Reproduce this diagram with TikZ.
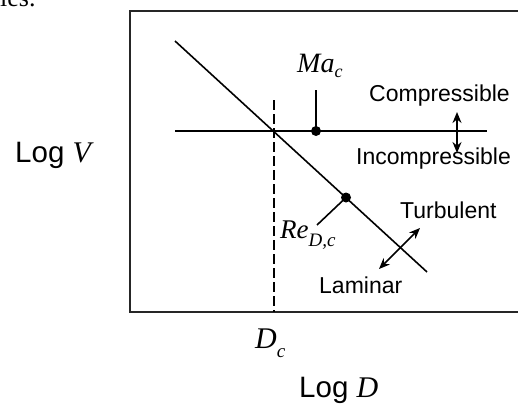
\documentclass[tikz,border=0pt]{standalone}
\usepackage{fontspec}
\setmainfont{Liberation Serif}
\newfontfamily\arial{Liberation Sans}
\usetikzlibrary{arrows.meta}
\tikzset{
  frame/.style={line width=1.6pt, draw=black!85},
  curve/.style={line width=1.6pt},
  dashline/.style={line width=1.5pt, dash pattern=on 10pt off 4pt},
  dotnode/.style={circle, fill=black, inner sep=0pt, minimum size=10pt},
  dblarrow/.style={line width=1.6pt, {Stealth[length=11pt,width=9pt]}-{Stealth[length=11pt,width=9pt]}},
  lbl/.style={font=\arial\fontsize{23}{25}\selectfont, inner sep=0pt, anchor=base west},
  axlbl/.style={font=\arial\fontsize{29.5}{31}\selectfont, inner sep=0pt, anchor=base west},
  sym/.style={inner sep=0pt, anchor=base west},
}
\begin{document}
\begin{tikzpicture}[x=1pt,y=-1pt]
\useasboundingbox (0,0) rectangle (518,404);
\begin{scope}
\clip (0,0) rectangle (518,404);
\node[sym, font=\fontsize{26}{28}\selectfont] (frag) at (0,7) {ies.};
\coordinate (bTR) at (530,11);
\coordinate (bTL) at (130,11);
\coordinate (bBL) at (130,312);
\coordinate (bBR) at (530,312);
\draw[frame] (bTR) -- (bTL) -- (bBL) -- (bBR);
\end{scope}
% main lines
\coordinate (dA) at (175,41);
\coordinate (dB) at (427,272);
\coordinate (hA) at (175,131);
\coordinate (hB) at (487,131);
\coordinate (vT) at (274,100);
\coordinate (vB) at (274,312);
\draw[curve] (dA) -- (dB);
\draw[curve] (hA) -- (hB);
\draw[dashline] (vT) -- (vB);
% critical points
\node[dotnode] (ma) at (316,131) {};
\node[dotnode] (re) at (346,197.5) {};
\coordinate (maTop) at (316,90);
\coordinate (reEnd) at (317,225);
\draw[curve] (ma.center) -- (maTop);
\draw[curve] (re.center) -- (reEnd);
% double arrows
\coordinate (cU) at (457,112);
\coordinate (cD) at (457,153);
\draw[dblarrow] (cU) -- (cD);
\coordinate (tU) at (420,228);
\coordinate (tD) at (379,269);
\draw[dblarrow] (tU) -- (tD);
% labels
\node[sym] (malbl) at (297,72) {\fontsize{28}{30}\selectfont\itshape Ma\raisebox{-5pt}{\fontsize{18}{19}\selectfont c}};
\node[sym] (relbl) at (280,238) {\fontsize{27}{29}\selectfont\itshape Re\raisebox{-8pt}{\fontsize{19}{20}\selectfont D,c}};
\node[sym] (dclbl) at (255,348) {\fontsize{30}{32}\selectfont\itshape D\raisebox{-9pt}{\fontsize{19}{20}\selectfont c}};
\node[lbl] (comp) at (369,101) {Compressible};
\node[lbl] (incomp) at (356,164) {Incompressible};
\node[lbl] (turb) at (400,218) {Turbulent};
\node[lbl] (lam) at (319,293) {Laminar};
\node[axlbl] (logv) at (15,162) {Log {\rmfamily\itshape\fontsize{30}{32}\selectfont V}};
\node[axlbl] (logd) at (299,397) {Log {\rmfamily\itshape\fontsize{30}{32}\selectfont D}};
\end{tikzpicture}
\end{document}
